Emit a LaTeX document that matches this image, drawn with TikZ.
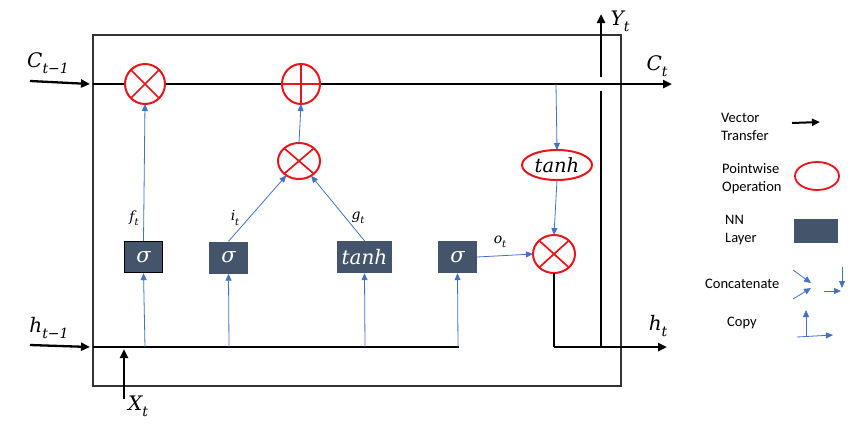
\documentclass[tikz,border=0pt]{standalone}
\usepackage{fontspec}
\setsansfont{Carlito}
\newfontfamily\mathish{DejaVu Serif}
\newcommand\vlab[4]{{\mathish\itshape\fontsize{#1}{#1}\selectfont #3\raisebox{-0.3em}{\fontsize{#2}{#2}\selectfont #4}}}
\newcommand\vtxt[2]{{\mathish\itshape\fontsize{#1}{#1}\selectfont #2}}
\usetikzlibrary{arrows.meta,shapes.geometric}
\definecolor{nnfill}{HTML}{44546A}
\definecolor{bluel}{HTML}{4472C4}
\definecolor{redop}{HTML}{E8151B}
\begin{document}
\begin{tikzpicture}[x=1pt,y=-1pt,
  vec/.style={black, line width=2.3pt, -{Triangle[length=9pt,width=8pt]}},
  thickln/.style={black, line width=2.3pt},
  bl/.style={bluel, line width=0.8pt, -{Triangle[length=7pt,width=6pt]}},
  op/.style={ellipse, draw=redop, fill=white, line width=2pt, outer sep=0pt, inner sep=0pt},
  crossln/.style={redop, line width=1.7pt},
  nn/.style={fill=nnfill, text=white, inner sep=0pt, minimum height=32pt, minimum width=39pt},
  leg/.style={font=\sffamily\fontsize{14.5}{18}\selectfont, align=left, anchor=west, inner sep=0pt}
]
\useasboundingbox (0,0) rectangle (850,424);
\fill[white] (0,0) rectangle (850,424);

% cell frame
\draw[black!80, line width=1.3pt] (93,35) rectangle (621,386);

% coordinates
\coordinate (cin) at (93,84);
\coordinate (cout) at (672,84);
\coordinate (cl) at (30,81);
\coordinate (cr) at (90,84);
\coordinate (hin) at (93,347);
\coordinate (hend) at (459,347);
\coordinate (hl) at (30,345);
\coordinate (hr) at (90,347);
\coordinate (xb) at (124,399);
\coordinate (xt) at (124,349);
\coordinate (hcorner) at (554,347);
\coordinate (hout) at (667,347);
\coordinate (yb) at (601,347);
\coordinate (ygap1) at (601,91);
\coordinate (ygap2) at (601,77);
\coordinate (ytop) at (601,14);
\coordinate (ctap) at (556,84);
\coordinate (h1) at (145,347);
\coordinate (h2) at (229,347);
\coordinate (h3) at (365,347);
\coordinate (h4) at (458,347);

% main lines
\draw[vec] (cin) -- (cout);
\draw[vec] (cl) -- (cr);
\draw[thickln] (hin) -- (hend);
\draw[vec] (hl) -- (hr);
\draw[vec] (xb) -- (xt);
\draw[thickln] (yb) -- (ygap1);
\draw[vec] (ygap2) -- (ytop);

% operations
\node[op, minimum width=40pt, minimum height=40pt] (m1) at (145,84) {};
\draw[crossln] (m1.north east) -- (m1.south west) (m1.north west) -- (m1.south east);
\node[op, minimum width=38pt, minimum height=40pt] (pl) at (301,84) {};
\draw[crossln] (pl.north) -- (pl.south) (pl.west) -- (pl.east);
\node[op, minimum width=42pt, minimum height=36pt] (m2) at (299,161) {};
\draw[crossln] (m2.north east) -- (m2.south west) (m2.north west) -- (m2.south east);
\node[op, minimum width=42pt, minimum height=38pt] (m3) at (554,254) {};
\draw[crossln] (m3.north east) -- (m3.south west) (m3.north west) -- (m3.south east);
\node[op, minimum width=70pt, minimum height=30pt] (th) at (557,165) {\vtxt{19.5}{tanh}};

% NN layers
\node[nn, draw=black, line width=1.3pt, minimum width=38pt, minimum height=31pt] (s1) at (143.5,257) {\vtxt{21}{σ}};
\node[nn] (s2) at (228.5,257.5) {\vtxt{21}{σ}};
\node[nn, minimum width=55pt] (tb) at (364.5,257) {\vtxt{20}{tanh}};
\node[nn] (s4) at (457.5,257) {\vtxt{21}{σ}};

% output h
\draw[thickln] (m3.south) -- (hcorner);
\draw[vec] (hcorner) -- (hout);

% blue connectors
\draw[bl] (h1) -- (s1.south);
\draw[bl] (h2) -- (s2.south);
\draw[bl] (h3) -- (tb.south);
\draw[bl] (h4) -- (s4.south);
\draw[bl] (s1.north) -- (m1.south);
\draw[bl] (s2.north) -- (m2);
\draw[bl] (tb.north) -- (m2);
\draw[bl] (m2.north) -- (pl.south);
\draw[bl] (s4.east) -- (m3.west);
\draw[bl] (ctap) -- (th.north);
\draw[bl] (th.south) -- (m3.north);

% labels
\node (lc1) at (48,63) {\vlab{20}{14}{C}{t−1}};
\node (lct) at (657,66) {\vlab{20}{14}{C}{t}};
\node (lh1) at (49,328) {\vlab{20}{14}{h}{t−1}};
\node (lht) at (658,326) {\vlab{20}{14}{h}{t}};
\node (lx) at (138,406) {\vlab{20}{14}{X}{t}};
\node (ly) at (620,21) {\vlab{20}{14}{Y}{t}};
\node (lf) at (134,218) {\vlab{14}{10}{f}{t}};
\node (li) at (235,218) {\vlab{14}{10}{i}{t}};
\node (lg) at (358,218) {\vlab{14}{10}{g}{t}};
\node (lo) at (500,242) {\vlab{14}{10}{o}{t}};

% legend
\node[leg] (lv) at (721,127) {Vector\\Transfer};
\coordinate (lva) at (792,123);
\coordinate (lvb) at (820,122);
\draw[black, line width=2pt, -{Triangle[length=8pt,width=7pt]}] (lva) -- (lvb);
\node[leg] (lp) at (722,179) {Pointwise\\Operation};
\node[ellipse, draw=redop, line width=1.8pt, minimum width=44pt, minimum height=28pt] (lpe) at (817,176) {};
\node[leg] (ln) at (725,230) {NN\\Layer};
\node[fill=nnfill, minimum width=44pt, minimum height=24pt, inner sep=0pt] (lnr) at (816,231) {};
\node[leg] (lcc) at (705,284) {Concatenate};
\coordinate (ca1) at (793,270);
\coordinate (ca2) at (811,283);
\coordinate (cb1) at (793,299);
\coordinate (cb2) at (811,288);
\coordinate (cc1) at (824,291);
\coordinate (cc2) at (841,291);
\coordinate (cd1) at (842,267);
\coordinate (cd2) at (842,288);
\draw[bl] (ca1) -- (ca2);
\draw[bl] (cb1) -- (cb2);
\draw[bl] (cc1) -- (cc2);
\draw[bl] (cd1) -- (cd2);
\node[leg] (lcp) at (727,323) {Copy};
\coordinate (cp1) at (806,337);
\coordinate (cp2) at (806,310);
\coordinate (cp3) at (797,337);
\coordinate (cp4) at (833,335);
\draw[bl] (cp1) -- (cp2);
\draw[bl] (cp3) -- (cp4);
\end{tikzpicture}
\end{document}
